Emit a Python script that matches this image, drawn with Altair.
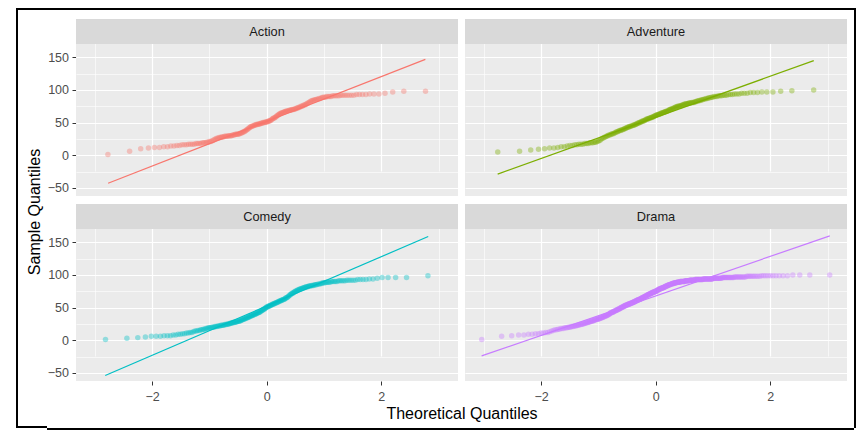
import altair as alt
import pandas as pd

genres = ["Action", "Adventure", "Comedy", "Drama"]
colors = ["#F8766D", "#7CAE00", "#00BFC4", "#C77CFF"]

# sorted sample values
action_scores = [
    1, 6, 10, 11, 12, 12, 13, 13, 14, 14, 15, 15,
    16, 16, 16, 17, 17, 17, 17, 18, 18, 18, 18, 19, 19, 19, 20, 20, 21,
    21, 22, 23, 24, 25, 26, 26, 27, 27, 28,
    28, 28, 29, 29, 29, 29, 30, 30, 30, 30, 31, 31, 31, 32, 32, 32,
    32, 33, 33, 34, 34, 35, 36, 36, 37,
    38, 39, 40, 41, 42, 43, 44, 44,
    45, 45, 46, 46, 47, 47, 47, 48, 48,
    48, 49, 49, 49, 50, 50, 50, 51, 51,
    51, 52, 52, 53, 53, 54, 55, 56, 57,
    57, 58, 59, 60, 61, 62, 63, 64, 64, 65,
    65, 66, 66, 67, 67, 68, 68, 68,
    69, 69, 69, 70, 70, 70, 71,
    71, 72, 72, 73, 73, 74, 75, 75, 76, 77,
    77, 78, 79, 80, 81, 82, 83, 84, 84, 85,
    85, 86, 86, 87, 87, 88, 89,
    89, 89, 90, 90, 90, 90, 91, 91, 91, 91, 91, 92, 92, 92, 92, 92, 92,
    92, 93, 93, 93, 93, 94, 94, 94,
    95, 97, 98, 98,
]

adventure_scores = [
    5, 6, 8, 9,
    10, 11, 11, 12, 13, 13, 14,
    15, 15, 16, 16, 17, 17, 17, 18, 18, 18, 19, 19, 19, 20, 20, 21,
    22, 23, 25, 26, 27, 28, 29,
    30, 31, 31, 32, 33, 33, 34, 35, 36, 36,
    37, 38, 38, 39, 39, 40, 41, 41, 42,
    43, 43, 44, 44, 45, 45, 46, 46, 47, 47, 48,
    49, 49, 50, 50, 51, 52, 52, 53, 53, 54,
    55, 55, 56, 56, 57, 57, 58, 58, 59, 59, 60, 61,
    61, 62, 62, 63, 63, 64, 64, 65, 65, 66, 66, 67, 67,
    68, 68, 69, 70, 70, 71, 71, 72, 72, 73,
    74, 74, 75, 75, 75, 76, 76, 77, 77,
    78, 78, 79, 79, 79, 80, 80, 80, 81, 81, 81,
    82, 82, 83, 83, 84, 84, 85, 85, 86, 86, 87, 87, 88, 88, 89,
    89, 90, 90, 90, 91, 91, 91, 92, 92, 92, 93, 93, 93, 94, 94, 94,
    95, 95, 95, 96, 96, 96, 97, 97,
    97, 98, 99, 100,
]

comedy_scores = [
    1, 3, 4, 5,
    6, 6, 6, 7, 7, 7, 8, 8, 9,
    9, 10, 10, 11, 11, 12, 12, 13,
    14, 14, 15, 15, 16, 16, 17, 17, 18, 18, 19,
    19, 19, 20, 20, 20, 21, 21, 21, 22, 22, 22, 23, 23, 23, 23,
    24, 24, 24, 25, 25, 25, 26, 26, 26, 27, 27, 27, 28, 28, 28, 29,
    29, 29, 30, 30, 31, 31, 32, 32, 33, 33, 34,
    34, 35, 35, 36, 36, 37, 37, 38, 38, 39, 39, 40, 40,
    41, 41, 42, 42, 43, 43, 44,
    45, 45, 46, 47, 48, 48, 49, 50,
    51, 51, 52, 52, 53, 53, 54, 54, 55, 55, 56, 56,
    57, 57, 58, 58, 59, 59, 60, 60, 61, 61,
    62, 62, 63, 63, 64, 65, 65, 66, 67, 68,
    69, 70, 71, 72, 72, 73, 74,
    75, 75, 76, 77, 77, 78, 78, 79, 79, 80, 80, 81, 81,
    82, 82, 82, 83, 83, 83, 84, 84, 84, 85,
    85, 85, 86, 86, 86, 87, 87, 88,
    88, 88, 89, 89, 89, 89, 90, 90, 90, 90, 90, 91, 91, 91, 91, 91, 92, 92, 92,
    92, 92, 93, 93, 93, 93, 94, 94, 95,
    96, 96, 96, 96, 99,
]

drama_scores = [
    1, 6, 7, 8, 8, 9, 9, 10, 10,
    11, 11, 12, 12, 13, 14, 15, 16, 16,
    17, 17, 18, 18, 18, 19, 19, 19, 20, 20,
    20, 21, 21, 21, 22, 22, 22, 23, 23, 23, 24, 24, 24, 25, 25, 25, 26, 26,
    26, 27, 27, 27, 28, 28, 28, 29, 29, 29, 30, 30, 30, 31, 31, 31, 32, 32, 32, 32,
    33, 33, 33, 34, 34, 34, 35, 35, 35, 36, 36, 36, 37, 37, 37, 38, 38, 38, 39, 39, 40, 40, 41,
    41, 42, 42, 42, 43, 43, 43, 44, 44, 44, 45, 45, 45, 46, 46, 46, 47, 47, 47, 48,
    48, 48, 49, 49, 49, 50, 50, 50, 51, 51, 51, 52, 52, 52, 53, 53, 53, 54, 54, 54,
    54, 54, 55, 55, 55, 55, 56, 56, 56, 56, 57, 57, 57, 57, 58, 58, 58, 58, 59, 59,
    59, 59, 60, 60, 60, 61, 61, 61, 61, 62, 62, 62, 62, 63, 63, 63, 63, 64, 64, 64,
    64, 65, 65, 65, 66, 66, 66, 66, 67, 67, 67, 68, 68, 68, 68, 69, 69, 69, 70, 70,
    70, 70, 71, 71, 71, 71, 72, 72, 72, 72, 73, 73, 73, 73, 74, 74, 74, 74, 74, 75, 75,
    75, 75, 76, 76, 76, 77, 77, 77, 78, 78, 78, 78, 79, 79, 79, 79, 80, 80, 80,
    80, 80, 81, 81, 81, 81, 82, 82, 82, 82, 83, 83, 83, 83, 84, 84, 84, 84, 85, 85,
    85, 85, 85, 86, 86, 86, 86, 86, 87, 87, 87, 87, 87, 87, 88, 88, 88, 88, 88, 88,
    88, 89, 89, 89, 89, 89, 89, 89, 89, 89, 90, 90, 90, 90, 90, 90, 90, 90, 90, 90, 90,
    90, 90, 91, 91, 91, 91, 91, 91, 91, 91, 91, 91, 91, 92, 92, 92, 92, 92, 92, 92,
    92, 92, 92, 92, 92, 92, 93, 93, 93, 93, 93, 93, 93, 93, 93, 93, 93, 93, 93, 93,
    93, 93, 93, 93, 94, 94, 94, 94, 94, 94, 94, 94, 94, 94, 94, 94, 94, 94, 94, 94, 94, 94, 94,
    95, 95, 95, 95, 95, 95, 95, 95, 95, 95, 95, 95, 95, 95, 95, 96, 96, 96, 96,
    96, 96, 96, 96, 96, 96, 96, 96, 96, 96, 96, 96, 97, 97, 97, 97, 97, 97, 97, 97,
    97, 97, 97, 97, 98, 98, 98, 98, 98, 98, 98, 98, 98, 98, 99, 99, 99, 99,
    99, 99, 99, 99, 99, 99, 100, 100, 100, 100,
]

# reference (qq) line end points: theoretical, sample
line_x_start = [-2.77, -2.76, -2.82, -3.04]
line_y_start = [-43, -29, -54, -24]
line_x_end = [2.77, 2.76, 2.82, 3.04]
line_y_end = [147, 145, 159, 160]

x_ticks = [-3, -2, -1, 0, 1, 2, 3]
y_ticks = [-50, -25, 0, 25, 50, 75, 100, 125, 150]

y_title = "Sample Quantiles"
x_title = "Theoretical Quantiles"

rows = []
for g, scores in zip(genres, [action_scores, adventure_scores, comedy_scores, drama_scores]):
    for s in scores:
        rows.append({"genre": g, "kind": "point", "sq": s})
for g, x0, y0, x1, y1 in zip(genres, line_x_start, line_y_start, line_x_end, line_y_end):
    rows.append({"genre": g, "kind": "line", "tq": x0, "sq": y0})
    rows.append({"genre": g, "kind": "line", "tq": x1, "sq": y1})
df = pd.DataFrame(rows)

FONT = "Liberation Sans"
W = 382          # panel width
STRIP = 25       # strip height inside each cell
PH = 152         # plotting height
H = STRIP + PH   # cell height

x_enc = alt.X(
    "tq:Q",
    scale=alt.Scale(domain=[-3.33, 3.34], nice=False, zero=False),
    axis=alt.Axis(
        values=x_ticks, title=None,
        labelExpr="datum.value % 2 === 0 ? datum.label : ''",
        gridWidth={"condition": {"test": "datum.value % 2 === 0", "value": 1.2}, "value": 0.6},
        tickOpacity={"condition": {"test": "datum.value % 2 === 0", "value": 1}, "value": 0},
    ),
)
y_enc = alt.Y(
    "sq:Q",
    scale=alt.Scale(domain=[-62.5, 170.5], range=[H, STRIP], nice=False, zero=False),
    axis=alt.Axis(
        values=y_ticks, title=None,
        labelExpr="datum.value % 50 === 0 ? datum.label : ''",
        gridWidth={"condition": {"test": "datum.value % 50 === 0", "value": 1.2}, "value": 0.6},
        tickOpacity={"condition": {"test": "datum.value % 50 === 0", "value": 1}, "value": 0},
    ),
)
color_enc = alt.Color("genre:N", scale=alt.Scale(domain=genres, range=colors), legend=None)

strip_base = alt.Chart().transform_filter("datum.kind === 'point'").transform_aggregate(
    cnt="count()", groupby=["genre"]
)
strip_rect = strip_base.mark_rect(color="#D9D9D9").encode(
    x=alt.value(0), x2=alt.value(W), y=alt.value(0), y2=alt.value(STRIP)
)
strip_text = strip_base.mark_text(
    font=FONT, fontSize=12.8, color="#1A1A1A", baseline="middle", align="center"
).encode(x=alt.value(W / 2), y=alt.value(STRIP / 2), text="genre:N")

points = (
    alt.Chart()
    .transform_filter("datum.kind === 'point'")
    .transform_joinaggregate(n="count()", groupby=["genre"])
    .transform_window(rank="row_number()", sort=[alt.SortField("sq", order="ascending")], groupby=["genre"])
    .transform_calculate(tq="quantileNormal((datum.rank - 0.5) / datum.n)")
    .mark_circle(size=30, opacity=0.38)
    .encode(x=x_enc, y=y_enc, color=color_enc)
)
lines = (
    alt.Chart()
    .transform_filter("datum.kind === 'line'")
    .mark_line(strokeWidth=1.2)
    .encode(x=x_enc, y=y_enc, color=color_enc)
)

facet = (
    alt.layer(points, lines, strip_rect, strip_text)
    .properties(width=W, height=H)
    .facet(
        row=alt.Row("frow:O", title=None, header=alt.Header(labels=False, labelPadding=0)),
        column=alt.Column("fcol:O", header=alt.Header(
            labels=False, labelPadding=0, title=x_title, titleOrient="bottom",
            titleFont=FONT, titleFontSize=16, titleFontWeight="normal", titleColor="black", titlePadding=-7)),
        data=df,
        spacing={"row": 8, "column": 7},
    )
    .transform_calculate(
        frow="floor(indexof(['Action','Adventure','Comedy','Drama'], datum.genre) / 2)",
        fcol="indexof(['Action','Adventure','Comedy','Drama'], datum.genre) % 2",
    )
)

# outer frame of the figure (left piece also carries the y title)
OVER = 29        # left overhang of the facet (y axis)
TOP_W = 778
LEFT_W = 31
LEFT_H = 420
BOT_H = 8
frame_data = alt.Data(values=[{"f": 1}])
white = alt.ViewBackground(fill="white")
top_bar = alt.Chart(frame_data).mark_rect(color="black").encode(
    x=alt.value(-OVER), x2=alt.value(TOP_W), y=alt.value(0), y2=alt.value(2)
).properties(width=TOP_W, height=11, view=white)
bottom_bar = alt.Chart(frame_data).mark_rect(color="black").encode(
    x=alt.value(-OVER), x2=alt.value(TOP_W), y=alt.value(BOT_H - 2), y2=alt.value(BOT_H)
).properties(width=TOP_W, height=BOT_H, view=white)
lb_base = alt.Chart(frame_data).mark_rect(color="black")
left_bar = alt.layer(
    lb_base.encode(x=alt.value(0), x2=alt.value(2), y=alt.value(0), y2=alt.value(LEFT_H)),
    lb_base.encode(x=alt.value(0), x2=alt.value(LEFT_W), y=alt.value(0), y2=alt.value(2)),
    lb_base.encode(x=alt.value(0), x2=alt.value(LEFT_W), y=alt.value(LEFT_H - 2), y2=alt.value(LEFT_H)),
    alt.Chart(frame_data).mark_text(
        text=y_title, angle=270, font=FONT, fontSize=16, color="black",
        align="center", baseline="middle",
    ).encode(x=alt.value(19), y=alt.value(204)),
).properties(width=LEFT_W, height=LEFT_H, view=white)
right_bar = alt.Chart(frame_data).mark_rect(color="black").encode(
    x=alt.value(0), x2=alt.value(2), y=alt.value(0), y2=alt.value(LEFT_H)
).properties(width=2, height=LEFT_H, view=white)

chart = (
    alt.hconcat(left_bar, alt.vconcat(top_bar, facet, bottom_bar, spacing=0), right_bar, spacing=0)
    .properties(padding={"left": 8, "top": 0, "right": 0, "bottom": 0})
    .configure(font=FONT)
    .configure_view(fill="#EBEBEB", stroke=None)
    .configure_axis(
        labelFont=FONT, labelFontSize=12.5, labelColor="#4D4D4D",
        tickColor="#333333", tickSize=4, tickWidth=1,
        domain=False, gridColor="white",
    )
    .configure_axisX(labelPadding=5)
    .configure_axisY(labelPadding=3.5)
)

chart.save("out.html", embed_options={"renderer": "svg", "actions": False})
